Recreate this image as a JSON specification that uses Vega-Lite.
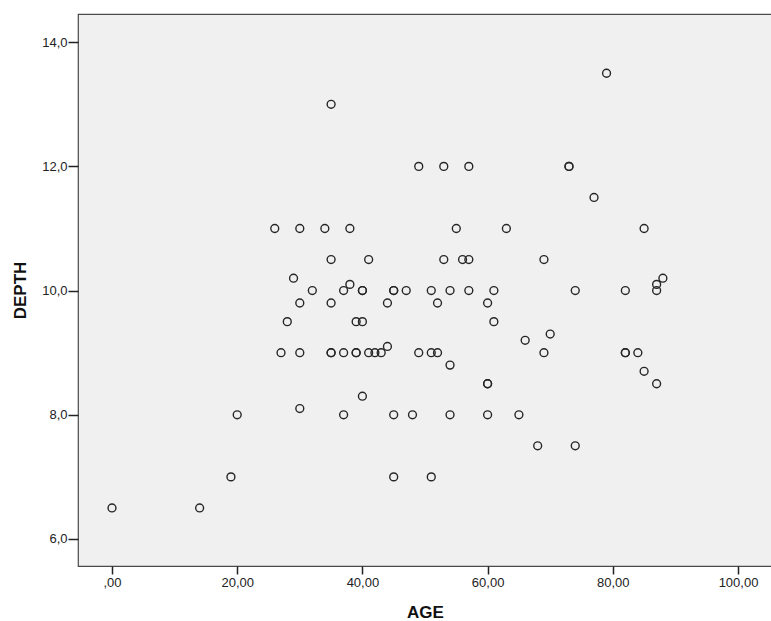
{
  "$schema": "https://vega.github.io/schema/vega-lite/v6.json",
  "width": 694,
  "height": 552,
  "autosize": {"type": "none"},
  "padding": {"left": 78, "top": 14, "right": 0, "bottom": 55},
  "background": "#ffffff",
  "config": {
    "view": {"fill": "#f0f0f0", "stroke": "#4a4a4a", "strokeWidth": 1.2},
    "font": "Liberation Sans",
    "axis": {
      "grid": false,
      "domain": false,
      "tickColor": "#222222",
      "tickWidth": 1.5,
      "labelColor": "#222222",
      "labelFontSize": 13,
      "labelFont": "Liberation Sans",
      "titleFont": "Liberation Sans",
      "titleFontSize": 17,
      "titleFontWeight": "bold",
      "titleColor": "#111111"
    }
  },
  "data": {
    "values": [
      {"AGE": 0, "DEPTH": 6.5}, {"AGE": 14, "DEPTH": 6.5}, {"AGE": 19, "DEPTH": 7.0}, {"AGE": 20, "DEPTH": 8.0},
      {"AGE": 26, "DEPTH": 11.0}, {"AGE": 27, "DEPTH": 9.0}, {"AGE": 28, "DEPTH": 9.5}, {"AGE": 29, "DEPTH": 10.2},
      {"AGE": 30, "DEPTH": 11.0}, {"AGE": 30, "DEPTH": 9.8}, {"AGE": 30, "DEPTH": 9.0}, {"AGE": 30, "DEPTH": 8.1},
      {"AGE": 32, "DEPTH": 10.0}, {"AGE": 34, "DEPTH": 11.0}, {"AGE": 35, "DEPTH": 13.0}, {"AGE": 35, "DEPTH": 10.5},
      {"AGE": 35, "DEPTH": 9.8}, {"AGE": 35, "DEPTH": 9.0}, {"AGE": 35, "DEPTH": 9.0}, {"AGE": 37, "DEPTH": 10.0},
      {"AGE": 37, "DEPTH": 9.0}, {"AGE": 37, "DEPTH": 8.0}, {"AGE": 38, "DEPTH": 11.0}, {"AGE": 38, "DEPTH": 10.1},
      {"AGE": 39, "DEPTH": 9.5}, {"AGE": 39, "DEPTH": 9.0}, {"AGE": 39, "DEPTH": 9.0}, {"AGE": 40, "DEPTH": 10.0},
      {"AGE": 40, "DEPTH": 10.0}, {"AGE": 40, "DEPTH": 9.5}, {"AGE": 40, "DEPTH": 8.3}, {"AGE": 41, "DEPTH": 10.5},
      {"AGE": 41, "DEPTH": 9.0}, {"AGE": 42, "DEPTH": 9.0}, {"AGE": 43, "DEPTH": 9.0}, {"AGE": 44, "DEPTH": 9.8},
      {"AGE": 44, "DEPTH": 9.1}, {"AGE": 45, "DEPTH": 10.0}, {"AGE": 45, "DEPTH": 10.0}, {"AGE": 45, "DEPTH": 8.0},
      {"AGE": 45, "DEPTH": 7.0}, {"AGE": 47, "DEPTH": 10.0}, {"AGE": 48, "DEPTH": 8.0}, {"AGE": 49, "DEPTH": 12.0},
      {"AGE": 49, "DEPTH": 9.0}, {"AGE": 51, "DEPTH": 10.0}, {"AGE": 51, "DEPTH": 9.0}, {"AGE": 51, "DEPTH": 7.0},
      {"AGE": 52, "DEPTH": 9.8}, {"AGE": 52, "DEPTH": 9.0}, {"AGE": 53, "DEPTH": 12.0}, {"AGE": 53, "DEPTH": 10.5},
      {"AGE": 54, "DEPTH": 10.0}, {"AGE": 54, "DEPTH": 8.8}, {"AGE": 54, "DEPTH": 8.0}, {"AGE": 55, "DEPTH": 11.0},
      {"AGE": 56, "DEPTH": 10.5}, {"AGE": 57, "DEPTH": 12.0}, {"AGE": 57, "DEPTH": 10.5}, {"AGE": 57, "DEPTH": 10.0},
      {"AGE": 60, "DEPTH": 9.8}, {"AGE": 60, "DEPTH": 8.5}, {"AGE": 60, "DEPTH": 8.5}, {"AGE": 60, "DEPTH": 8.0},
      {"AGE": 61, "DEPTH": 10.0}, {"AGE": 61, "DEPTH": 9.5}, {"AGE": 63, "DEPTH": 11.0}, {"AGE": 65, "DEPTH": 8.0},
      {"AGE": 66, "DEPTH": 9.2}, {"AGE": 68, "DEPTH": 7.5}, {"AGE": 69, "DEPTH": 10.5}, {"AGE": 69, "DEPTH": 9.0},
      {"AGE": 70, "DEPTH": 9.3}, {"AGE": 73, "DEPTH": 12.0}, {"AGE": 73, "DEPTH": 12.0}, {"AGE": 74, "DEPTH": 10.0},
      {"AGE": 74, "DEPTH": 7.5}, {"AGE": 77, "DEPTH": 11.5}, {"AGE": 79, "DEPTH": 13.5}, {"AGE": 82, "DEPTH": 10.0},
      {"AGE": 82, "DEPTH": 9.0}, {"AGE": 82, "DEPTH": 9.0}, {"AGE": 84, "DEPTH": 9.0}, {"AGE": 85, "DEPTH": 11.0},
      {"AGE": 85, "DEPTH": 8.7}, {"AGE": 87, "DEPTH": 10.1}, {"AGE": 87, "DEPTH": 10.0}, {"AGE": 87, "DEPTH": 8.5},
      {"AGE": 88, "DEPTH": 10.2}
    ]
  },
  "mark": {"type": "point", "shape": "circle", "filled": false, "size": 62, "stroke": "#262626", "strokeWidth": 1.4, "opacity": 1},
  "encoding": {
    "x": {
      "field": "AGE", "type": "quantitative",
      "scale": {"domain": [-5.43, 105.43], "nice": false, "zero": false},
      "axis": {
        "title": "AGE",
        "values": [0, 20, 40, 60, 80, 100],
        "labelExpr": "datum.value == 0 ? ',00' : replace(format(datum.value, '.2f'), '.', ',')",
        "tickSize": 8,
        "labelPadding": 2,
        "titlePadding": 15
      }
    },
    "y": {
      "field": "DEPTH", "type": "quantitative",
      "scale": {"domain": [5.565, 14.454], "nice": false, "zero": false},
      "axis": {
        "title": "DEPTH",
        "values": [6, 8, 10, 12, 14],
        "labelExpr": "replace(format(datum.value, '.1f'), '.', ',')",
        "tickSize": 10,
        "labelPadding": 1,
        "titlePadding": 12
      }
    }
  }
}
